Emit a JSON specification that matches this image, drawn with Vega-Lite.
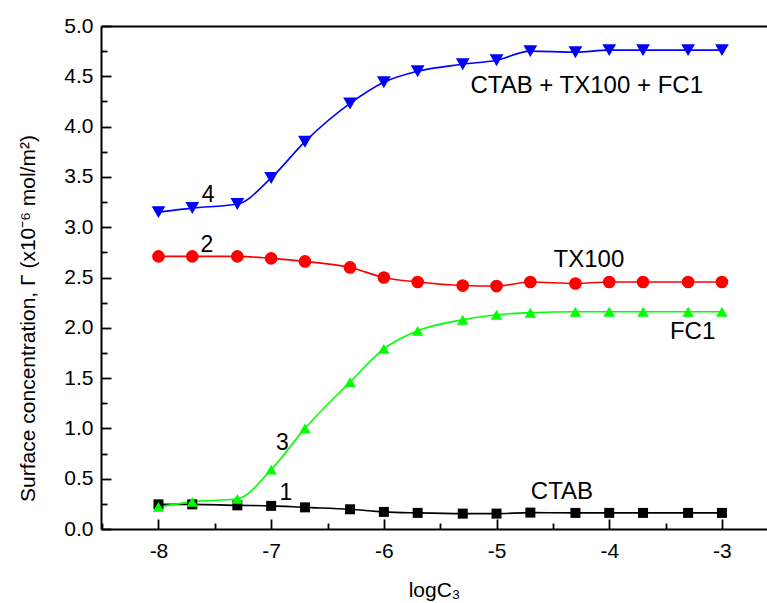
{
  "$schema": "https://vega.github.io/schema/vega-lite/v6.json",
  "width": 666,
  "height": 503,
  "autosize": {"type": "none"},
  "padding": {"left": 101, "top": 26, "right": 0, "bottom": 74},
  "background": "white",
  "view": {"stroke": null},
  "config": {"font": "Liberation Sans"},
  "datasets": {
    "series": [
      {"x": -8, "y": 0.245, "s": "CTAB"}, {"x": -7.7, "y": 0.245, "s": "CTAB"}, {"x": -7.3, "y": 0.235, "s": "CTAB"}, {"x": -7, "y": 0.23, "s": "CTAB"},
      {"x": -6.7, "y": 0.215, "s": "CTAB"}, {"x": -6.3, "y": 0.196, "s": "CTAB"}, {"x": -6, "y": 0.17, "s": "CTAB"}, {"x": -5.7, "y": 0.16, "s": "CTAB"},
      {"x": -5.3, "y": 0.153, "s": "CTAB"}, {"x": -5, "y": 0.153, "s": "CTAB"}, {"x": -4.7, "y": 0.163, "s": "CTAB"}, {"x": -4.3, "y": 0.16, "s": "CTAB"},
      {"x": -4, "y": 0.16, "s": "CTAB"}, {"x": -3.7, "y": 0.16, "s": "CTAB"}, {"x": -3.3, "y": 0.16, "s": "CTAB"}, {"x": -3, "y": 0.16, "s": "CTAB"},
      {"x": -8, "y": 3.15, "s": "mix"}, {"x": -7.7, "y": 3.19, "s": "mix"}, {"x": -7.3, "y": 3.23, "s": "mix"}, {"x": -7, "y": 3.49, "s": "mix"},
      {"x": -6.7, "y": 3.85, "s": "mix"}, {"x": -6.3, "y": 4.23, "s": "mix"}, {"x": -6, "y": 4.44, "s": "mix"}, {"x": -5.7, "y": 4.55, "s": "mix"},
      {"x": -5.3, "y": 4.62, "s": "mix"}, {"x": -5, "y": 4.66, "s": "mix"}, {"x": -4.7, "y": 4.75, "s": "mix"}, {"x": -4.3, "y": 4.74, "s": "mix"},
      {"x": -4, "y": 4.76, "s": "mix"}, {"x": -3.7, "y": 4.76, "s": "mix"}, {"x": -3.3, "y": 4.76, "s": "mix"}, {"x": -3, "y": 4.76, "s": "mix"},
      {"x": -8, "y": 2.71, "s": "TX100"}, {"x": -7.7, "y": 2.71, "s": "TX100"}, {"x": -7.3, "y": 2.71, "s": "TX100"}, {"x": -7, "y": 2.69, "s": "TX100"},
      {"x": -6.7, "y": 2.66, "s": "TX100"}, {"x": -6.3, "y": 2.6, "s": "TX100"}, {"x": -6, "y": 2.5, "s": "TX100"}, {"x": -5.7, "y": 2.455, "s": "TX100"},
      {"x": -5.3, "y": 2.42, "s": "TX100"}, {"x": -5, "y": 2.415, "s": "TX100"}, {"x": -4.7, "y": 2.455, "s": "TX100"}, {"x": -4.3, "y": 2.44, "s": "TX100"},
      {"x": -4, "y": 2.455, "s": "TX100"}, {"x": -3.7, "y": 2.455, "s": "TX100"}, {"x": -3.3, "y": 2.455, "s": "TX100"}, {"x": -3, "y": 2.455, "s": "TX100"},
      {"x": -8, "y": 0.22, "s": "FC1"}, {"x": -7.7, "y": 0.27, "s": "FC1"}, {"x": -7.3, "y": 0.3, "s": "FC1"}, {"x": -7, "y": 0.59, "s": "FC1"},
      {"x": -6.7, "y": 1.0, "s": "FC1"}, {"x": -6.3, "y": 1.46, "s": "FC1"}, {"x": -6, "y": 1.79, "s": "FC1"}, {"x": -5.7, "y": 1.97, "s": "FC1"},
      {"x": -5.3, "y": 2.08, "s": "FC1"}, {"x": -5, "y": 2.13, "s": "FC1"}, {"x": -4.7, "y": 2.15, "s": "FC1"}, {"x": -4.3, "y": 2.16, "s": "FC1"},
      {"x": -4, "y": 2.16, "s": "FC1"}, {"x": -3.7, "y": 2.16, "s": "FC1"}, {"x": -3.3, "y": 2.16, "s": "FC1"}, {"x": -3, "y": 2.16, "s": "FC1"}
    ],
    "numbers": [
      {"x": -7.56, "y": 3.32, "t": "4"},
      {"x": -7.57, "y": 2.82, "t": "2"},
      {"x": -6.9, "y": 0.85, "t": "3"},
      {"x": -6.87, "y": 0.36, "t": "1"}
    ],
    "names": [
      {"x": -4.2, "y": 4.4, "t": "CTAB + TX100 + FC1"},
      {"x": -4.18, "y": 2.67, "t": "TX100"},
      {"x": -3.26, "y": 1.96, "t": "FC1"},
      {"x": -4.42, "y": 0.37, "t": "CTAB"}
    ]
  },
  "resolve": {"axis": {"x": "independent", "y": "independent"}},
  "layer": [
    {
      "data": {"name": "series"},
      "mark": {"type": "line", "interpolate": "monotone", "strokeWidth": 1.6},
      "encoding": {
        "x": {
          "field": "x", "type": "quantitative",
          "scale": {"domain": [-8.51, -2.6], "nice": false, "zero": false},
          "axis": {
            "orient": "bottom",
            "values": [-8, -7, -6, -5, -4, -3],
            "labelExpr": "'' + datum.value",
            "ticks": false,
            "labelPadding": 11,
            "labelFontSize": 21, "labelColor": "#000",
            "domainColor": "#000", "domainWidth": 2,
            "grid": false,
            "title": "logC₃", "titleFontSize": 21, "titleFontWeight": "normal", "titleColor": "#000",
            "titlePadding": 18
          }
        },
        "y": {
          "field": "y", "type": "quantitative",
          "scale": {"domain": [0, 5], "nice": false},
          "axis": {
            "orient": "left",
            "values": [0, 0.5, 1, 1.5, 2, 2.5, 3, 3.5, 4, 4.5, 5],
            "format": ".1f",
            "ticks": false,
            "labelPadding": 8,
            "labelFontSize": 21, "labelColor": "#000",
            "domainColor": "#000", "domainWidth": 2,
            "grid": false,
            "title": "Surface concentration, Γ (x10⁻⁶ mol/m²)", "titleFontSize": 21, "titleFontWeight": "normal", "titleColor": "#000",
            "titleX": -63, "titleY": 292, "titleBaseline": "bottom", "titleAlign": "center", "titleAngle": -90
          }
        },
        "color": {
          "field": "s", "type": "nominal",
          "scale": {"domain": ["mix", "TX100", "FC1", "CTAB"], "range": ["#0000ff", "#ff0000", "#00ff00", "#000000"]},
          "legend": null
        }
      }
    },
    {
      "data": {"name": "series"},
      "mark": {"type": "point", "filled": true, "opacity": 1},
      "encoding": {
        "x": {
          "field": "x", "type": "quantitative",
          "axis": {"orient": "top", "offset": -503, "values": [-8, -7, -6, -5, -4, -3], "labels": false, "domain": false, "ticks": true, "tickSize": 10, "tickWidth": 1.8, "tickColor": "#000", "title": null, "grid": false}
        },
        "y": {
          "field": "y", "type": "quantitative",
          "axis": {"orient": "right", "offset": -666, "values": [0, 0.5, 1, 1.5, 2, 2.5, 3, 3.5, 4, 4.5, 5], "labels": false, "domain": false, "ticks": true, "tickSize": 10, "tickWidth": 1.8, "tickColor": "#000", "title": null, "grid": false}
        },
        "color": {
          "field": "s", "type": "nominal",
          "scale": {"domain": ["mix", "TX100", "FC1", "CTAB"], "range": ["#0000ff", "#ff0000", "#00ff00", "#000000"]},
          "legend": null
        },
        "shape": {
          "field": "s", "type": "nominal",
          "scale": {"domain": ["mix", "TX100", "FC1", "CTAB"], "range": ["triangle-down", "circle", "triangle-up", "square"]},
          "legend": null
        },
        "size": {
          "field": "s", "type": "nominal",
          "scale": {"domain": ["mix", "TX100", "FC1", "CTAB"], "range": [190, 100, 190, 90]},
          "legend": null
        }
      }
    },
    {
      "data": {"name": "numbers"},
      "mark": {"type": "text", "fontSize": 23, "align": "center", "baseline": "middle", "color": "#000"},
      "encoding": {
        "x": {
          "field": "x", "type": "quantitative",
          "axis": {"orient": "top", "offset": -503, "values": [-8.5, -7.5, -6.5, -5.5, -4.5, -3.5], "labels": false, "domain": false, "ticks": true, "tickSize": 6, "tickWidth": 1.8, "tickColor": "#000", "title": null, "grid": false}
        },
        "y": {
          "field": "y", "type": "quantitative",
          "axis": {"orient": "right", "offset": -666, "values": [0.25, 0.75, 1.25, 1.75, 2.25, 2.75, 3.25, 3.75, 4.25, 4.75], "labels": false, "domain": false, "ticks": true, "tickSize": 6, "tickWidth": 1.8, "tickColor": "#000", "title": null, "grid": false}
        },
        "text": {"field": "t"}
      }
    },
    {
      "data": {"name": "names"},
      "mark": {"type": "text", "fontSize": 24, "align": "center", "baseline": "middle", "color": "#000"},
      "encoding": {
        "x": {
          "field": "x", "type": "quantitative",
          "axis": {"orient": "top", "labels": false, "ticks": false, "title": null, "grid": false, "domainColor": "#000", "domainWidth": 2}
        },
        "y": {"field": "y", "type": "quantitative", "axis": null},
        "text": {"field": "t"}
      }
    }
  ]
}
